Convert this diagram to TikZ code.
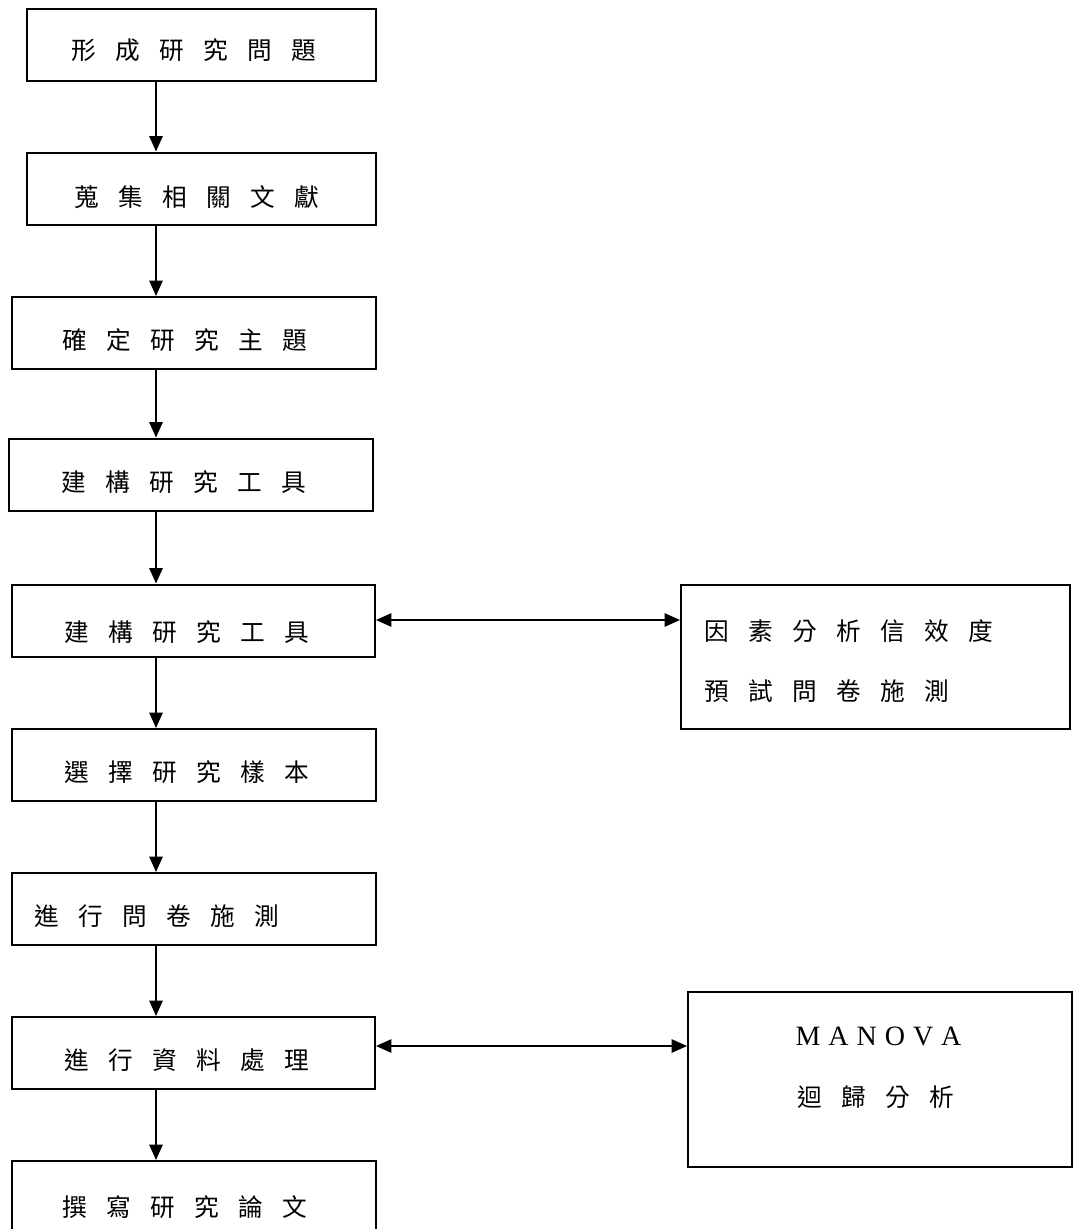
\documentclass[tikz,border=0pt]{standalone}
\usepackage{fontspec}
\setmainfont{Liberation Serif}
\newfontfamily\cjk{Noto Sans CJK TC}
\usetikzlibrary{arrows.meta}
\newcommand\cjktxt{\cjk\fontsize{18.5}{22}\selectfont\spaceskip=14.5pt plus 0pt minus 0pt\relax}
\newcommand\lattxt{\fontsize{21}{24}\selectfont\spaceskip=6pt plus 0pt minus 0pt\relax}
\begin{document}
\begin{tikzpicture}[x=0.75pt,y=-0.75pt,
  box/.style={draw,line width=1.5pt,inner sep=0pt,minimum height=54pt},
  lbl/.style={inner sep=0pt,anchor=west,font=\cjktxt},
  lat/.style={inner sep=0pt,font=\lattxt},
  arr/.style={line width=1.2pt,-{Triangle[length=11.5pt,width=10pt]}},
  darr/.style={line width=1.2pt,{Triangle[length=11.5pt,width=10pt]}-{Triangle[length=11.5pt,width=10pt]}}]
\useasboundingbox (0,0) rectangle (1074,1229);
\clip (0,0) rectangle (1074,1229);
% left column boxes
\node[box,minimum width=261.75pt] (b1) at (201.5,45) {};
\node[box,minimum width=261.75pt] (b2) at (201.5,188.5) {};
\node[box,minimum width=273pt] (b3) at (194,333) {};
\node[box,minimum width=273pt] (b4) at (191,474.5) {};
\node[box,minimum width=272.25pt] (b5) at (193.5,620.5) {};
\node[box,minimum width=273pt] (b6) at (194,765) {};
\node[box,minimum width=273pt] (b7) at (194,909) {};
\node[box,minimum width=272.25pt] (b8) at (193.5,1053) {};
\node[box,minimum width=273pt] (b9) at (194,1197) {};
% right boxes
\node[box,minimum width=291.75pt,minimum height=108pt] (r1) at (875.5,657) {};
\node[box,minimum width=288pt,minimum height=131.25pt] (r2) at (880,1079.5) {};
% texts
\node[lbl] (t1) at (71,50) {形 成 研 究 問 題};
\node[lbl] (t2) at (74,197) {蒐 集 相 關 文 獻};
\node[lbl] (t3) at (62,340) {確 定 研 究 主 題};
\node[lbl] (t4) at (61,482) {建 構 研 究 工 具};
\node[lbl] (t5) at (64,632) {建 構 研 究 工 具};
\node[lbl] (t6) at (64,772) {選 擇 研 究 樣 本};
\node[lbl] (t7) at (34,916) {進 行 問 卷 施 測};
\node[lbl] (t8) at (64,1060) {進 行 資 料 處 理};
\node[lbl] (t9) at (62,1207) {撰 寫 研 究 論 文};
\node[lbl] (r1a) at (704,631) {因 素 分 析 信 效 度};
\node[lbl] (r1b) at (704,691) {預 試 問 卷 施 測};
\node[lat] (r2a) at (878.5,1036) {M A N O V A};
\node[lbl] (r2b) at (797,1097) {迴 歸 分 析};
% connectors
\coordinate (ax) at (156,0);
\draw[arr] (b1.south -| ax) -- (b2.north -| ax);
\draw[arr] (b2.south -| ax) -- (b3.north -| ax);
\draw[arr] (b3.south -| ax) -- (b4.north -| ax);
\draw[arr] (b4.south -| ax) -- (b5.north -| ax);
\draw[arr] (b5.south -| ax) -- (b6.north -| ax);
\draw[arr] (b6.south -| ax) -- (b7.north -| ax);
\draw[arr] (b7.south -| ax) -- (b8.north -| ax);
\draw[arr] (b8.south -| ax) -- (b9.north -| ax);
\coordinate (h1) at (0,620);
\coordinate (h2) at (0,1046);
\draw[darr] (b5.east |- h1) -- (r1.west |- h1);
\draw[darr] (b8.east |- h2) -- (r2.west |- h2);
\end{tikzpicture}
\end{document}
